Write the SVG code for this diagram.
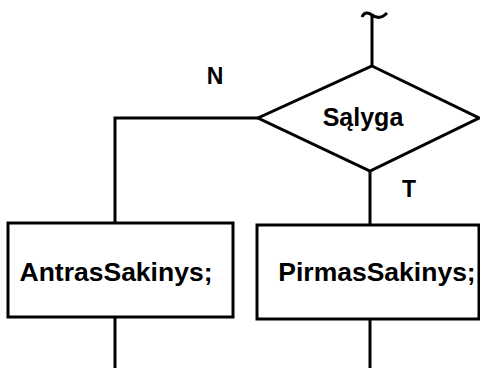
<svg xmlns="http://www.w3.org/2000/svg" width="480" height="368" viewBox="0 0 480 368">
<style>
.shape{fill:#fff;stroke:#000;stroke-width:3}
.line{fill:none;stroke:#000;stroke-width:3}
.t{font-family:"Liberation Sans",Arial,sans-serif;font-weight:bold;fill:#000;text-anchor:middle}
</style>
<rect width="480" height="368" fill="#fff"/>
<g id="connectors">
<path class="line" d="M362,17 C364,12 368,12 372,15 S381,19 387,13" stroke-width="2"/>
<line class="line" x1="372" y1="15" x2="372" y2="66"/>
<polyline class="line" points="258,118 115,118 115,223"/>
<line class="line" x1="370" y1="171" x2="370" y2="225"/>
<line class="line" x1="115" y1="317" x2="115" y2="368"/>
<line class="line" x1="370" y1="319" x2="370" y2="368"/>
</g>
<g id="condition">
<polygon class="shape" points="372,66 479,118 370,171 258,118"/>
<text class="t" x="363" y="126" font-size="25">Sąlyga</text>
</g>
<g id="label-n"><text class="t" x="215" y="84" font-size="23">N</text></g>
<g id="label-t"><text class="t" x="409" y="197" font-size="23">T</text></g>
<g id="antras">
<rect class="shape" x="8" y="223" width="225" height="94"/>
<text class="t" x="116" y="281" font-size="26.5">AntrasSakinys;</text>
</g>
<g id="pirmas">
<rect class="shape" x="257" y="225" width="222" height="94"/>
<text class="t" x="377" y="281" font-size="26.5">PirmasSakinys;</text>
</g>
</svg>
